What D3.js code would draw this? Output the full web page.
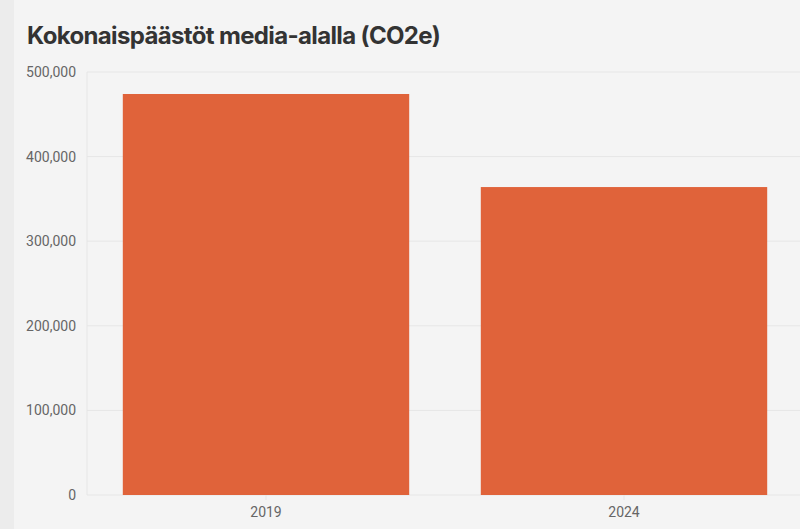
<!DOCTYPE html>
<html><head><meta charset="utf-8">
<script src="https://cdn.jsdelivr.net/npm/d3@7"></script>
<style>
html,body{margin:0;padding:0;background:#f4f4f4;}
svg{display:block;}
</style></head>
<body>
<script>
const title = "Kokonaispäästöt media-alalla (CO2e)";
const categories = ["2019", "2024"];
const values = [474000, 364000];
const yTicks = [0, 100000, 200000, 300000, 400000, 500000];

const W = 800, H = 529;
const margin = {left: 87, right: -3, top: 72, bottom: 34};
const svg = d3.select("body").append("svg").attr("width", W).attr("height", H);
svg.append("rect").attr("width", W).attr("height", H).attr("fill", "#f4f4f4");
svg.append("rect").attr("width", 14).attr("height", H).attr("fill", "#ececec");

const x = d3.scaleBand().domain(categories).range([margin.left, W - margin.right]).paddingInner(0.2).paddingOuter(0.1);
const y = d3.scaleLinear().domain([0, 500000]).range([H - margin.bottom, margin.top]);

svg.append("text").attr("x", 27).attr("y", 44).text(title)
  .attr("font-family", "Inter, Roboto, sans-serif").attr("font-weight", 700)
  .attr("font-size", 24).attr("fill", "#333").attr("letter-spacing", "-0.65");

// grid
const grid = svg.append("g");
grid.selectAll("line.h").data(yTicks).join("line")
  .attr("x1", margin.left).attr("x2", W).attr("y1", d => y(d)).attr("y2", d => y(d))
  .attr("stroke", "#e6e6e6").attr("stroke-width", 1);
grid.append("line").attr("x1", margin.left).attr("x2", margin.left)
  .attr("y1", margin.top).attr("y2", y(0)).attr("stroke", "#e6e6e6");

const yAxis = d3.axisLeft(y).tickValues(yTicks).tickFormat(d3.format(",")).tickSize(0).tickPadding(11);
const ya = svg.append("g").attr("transform", `translate(${margin.left},0)`).call(yAxis);
ya.select(".domain").remove();
ya.selectAll("text").attr("font-family", "Roboto, sans-serif").attr("font-size", 14).attr("fill", "#666");

svg.selectAll("rect.bar").data(categories).join("rect").attr("class", "bar")
  .attr("x", d => x(d)).attr("width", x.bandwidth())
  .attr("y", (d, i) => y(values[i])).attr("height", (d, i) => y(0) - y(values[i]))
  .attr("fill", "#e0633a");

const xAxis = d3.axisBottom(x).tickSize(5).tickPadding(7);
const xa = svg.append("g").attr("transform", `translate(0,${y(0)})`).call(xAxis);
xa.select(".domain").remove();
xa.selectAll("line").attr("stroke", "#e6e6e6");
xa.selectAll("text").attr("font-family", "Roboto, sans-serif").attr("font-size", 14).attr("fill", "#666");
</script>
</body></html>
